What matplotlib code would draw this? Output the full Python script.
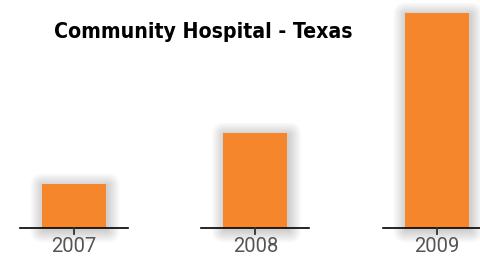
import matplotlib.pyplot as plt
from matplotlib.patches import FancyBboxPatch

years = ["2007", "2008", "2009"]
values = [44, 95, 215]

bar_color = "#f5862b"
px = 181.5  # pixels per category step

fig = plt.figure(figsize=(4.81, 2.60), dpi=100)
ax = fig.add_axes([0, 0, 1, 1])
ax.set_xlim(-74 / px, (481 - 74) / px)
ax.set_ylim(-32, 228)
ax.axis("off")

w = 64 / px
for i, v in enumerate(values):
    # soft blurred shadow, built from stacked translucent boxes
    for k in range(16, 0, -1):
        d = k * 0.8
        ax.add_patch(FancyBboxPatch((i - w / 2 + 1 / px, -2), w, v,
                                    boxstyle=f"round,pad={d / px},rounding_size={d / px}",
                                    mutation_aspect=px, color="black", alpha=0.011,
                                    lw=0, zorder=1))
    ax.bar(i, v, width=w, color=bar_color, zorder=3)
    ax.plot([i - 54 / px, i + 54 / px], [0, 0], color="black", lw=1.2, zorder=4)
    ax.plot([i, i], [0, -5.5], color="#333333", lw=1.3, zorder=4)
    ax.text(i, -18, years[i], ha="center", va="center", fontsize=14.5,
            color="#555555", family="Roboto", fontweight="normal")

fig.text(54 / 481, 1 - 32 / 260, "Community Hospital - Texas", ha="left", va="center",
         fontsize=15.2, fontweight="bold", family="DejaVu Sans", fontstretch="condensed")

fig.savefig("out.png", dpi=100)
